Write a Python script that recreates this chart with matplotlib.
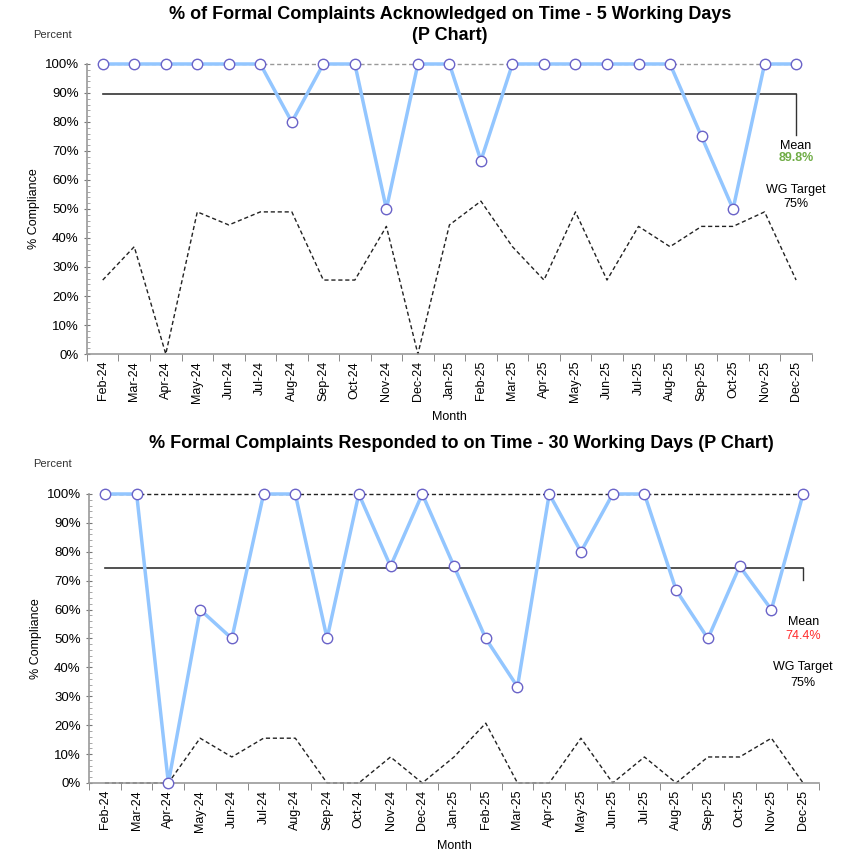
import matplotlib.pyplot as plt
from matplotlib.ticker import MultipleLocator, FuncFormatter

plt.rcParams['font.family'] = ['Liberation Sans', 'DejaVu Sans']

# Datos
meses = ['Feb-24', 'Mar-24', 'Apr-24', 'May-24', 'Jun-24', 'Jul-24', 'Aug-24', 'Sep-24',
         'Oct-24', 'Nov-24', 'Dec-24', 'Jan-25', 'Feb-25', 'Mar-25', 'Apr-25', 'May-25',
         'Jun-25', 'Jul-25', 'Aug-25', 'Sep-25', 'Oct-25', 'Nov-25', 'Dec-25']

ack_pct = [100, 100, 100, 100, 100, 100, 80, 100, 100, 50, 100, 100,
           66.7, 100, 100, 100, 100, 100, 100, 75, 50, 100, 100]
ack_lcl = [25.5, 37, 0, 49, 44.5, 49, 49, 25.5, 25.5, 44, 0, 44.5,
           52.7, 37, 25.5, 49, 25.5, 44, 37, 44, 44, 49, 25.5]
ack_ucl = [100] * 23
ack_mean = 89.8

resp_pct = [100, 100, 0, 60, 50, 100, 100, 50, 100, 75, 100, 75,
            50, 33.3, 100, 80, 100, 100, 66.7, 50, 75, 60, 100]
resp_lcl = [0, 0, 0, 15.5, 9, 15.5, 15.5, 0, 0, 9, 0, 9,
            20.7, 0, 0, 15.5, 0, 9, 0, 9, 9, 15.5, 0]
resp_ucl = [100] * 23
resp_mean = 74.4

target = 75

fig = plt.figure(figsize=(8.51, 8.52), dpi=100)


def dibujar(ax, pct, lcl, ucl, mean, ucl_color, mean_color, negrita, lab_y):
    x = list(range(len(meses)))
    ax.plot(x, ucl, linestyle=(0, (3, 2)), color=ucl_color, lw=1, zorder=2, clip_on=False)
    ax.plot(x, lcl, linestyle=(0, (3, 2)), color='#222222', lw=1, zorder=2, clip_on=False)
    ax.plot(x, [mean] * len(x), color='#333333', lw=1.2, zorder=2)
    ax.plot([x[-1], x[-1]], [mean, lab_y[0]], color='#333333', lw=1, zorder=2, clip_on=False)
    ax.plot(x, pct, color='#93C6FF', lw=2.5, zorder=3, clip_on=False)
    ax.plot(x, pct, 'o', ms=7.5, mfc='white', mec='#6A63C8', mew=1, zorder=4, clip_on=False)

    ax.text(x[-1], lab_y[1], 'Mean', ha='center', va='center', fontsize=9)
    ax.text(x[-1], lab_y[2], f'{mean}%', ha='center', va='center', fontsize=9,
            color=mean_color, fontweight='bold' if negrita else 'normal')
    ax.text(x[-1], lab_y[3], 'WG Target', ha='center', va='center', fontsize=9)
    ax.text(x[-1], lab_y[4], f'{target}%', ha='center', va='center', fontsize=9)

    ax.set_xlim(-0.5, len(x) - 0.5)
    ax.set_ylim(0, 100)
    ax.set_xticks(x)
    ax.set_xticklabels(meses, rotation=90, fontsize=9)
    ax.set_xticks([i - 0.5 for i in range(len(x) + 1)], minor=True)
    ax.tick_params(axis='x', which='major', length=0, pad=5)
    ax.tick_params(axis='x', which='minor', length=5, color='#777777')
    ax.yaxis.set_major_locator(MultipleLocator(10))
    ax.yaxis.set_minor_locator(MultipleLocator(2))
    ax.yaxis.set_major_formatter(FuncFormatter(lambda v, p: f'{v:.0f}%'))
    ax.tick_params(axis='y', which='major', length=5, labelsize=9.5, color='#777777', direction='inout')
    ax.tick_params(axis='y', which='minor', length=2.5, color='#999999', direction='in')
    for s in ['top', 'right']:
        ax.spines[s].set_visible(False)
    for s in ['left', 'bottom']:
        ax.spines[s].set_color('#999999')
        ax.spines[s].set_linewidth(1.2)
    ax.set_ylabel('% Compliance', fontsize=9, labelpad=3)
    ax.set_xlabel('Month', fontsize=9, labelpad=6)


ax1 = fig.add_axes([0.1022, 0.5845, 0.8518, 0.3404])
dibujar(ax1, ack_pct, ack_lcl, ack_ucl, ack_mean, '#999999', '#70AD47', True,
        [75.5, 71.7, 67.6, 56.6, 51.7])
fig.text(0.529, 0.9825, '% of Formal Complaints Acknowledged on Time - 5 Working Days',
         ha='center', va='center', fontsize=13, fontweight='bold')
fig.text(0.529, 0.9585, '(P Chart)', ha='center', va='center', fontsize=13, fontweight='bold')
fig.text(0.062, 0.959, 'Percent', ha='center', va='center', fontsize=8, color='#333333')

ax2 = fig.add_axes([0.1046, 0.0810, 0.8578, 0.3392])
dibujar(ax2, resp_pct, resp_lcl, resp_ucl, resp_mean, '#222222', '#FF2A2A', False,
        [70.2, 55.7, 50.9, 40.1, 34.6])
fig.text(0.542, 0.480, '% Formal Complaints Responded to on Time - 30 Working Days (P Chart)',
         ha='center', va='center', fontsize=13, fontweight='bold')
fig.text(0.062, 0.455, 'Percent', ha='center', va='center', fontsize=8, color='#333333')

plt.savefig('out.png', dpi=100)
